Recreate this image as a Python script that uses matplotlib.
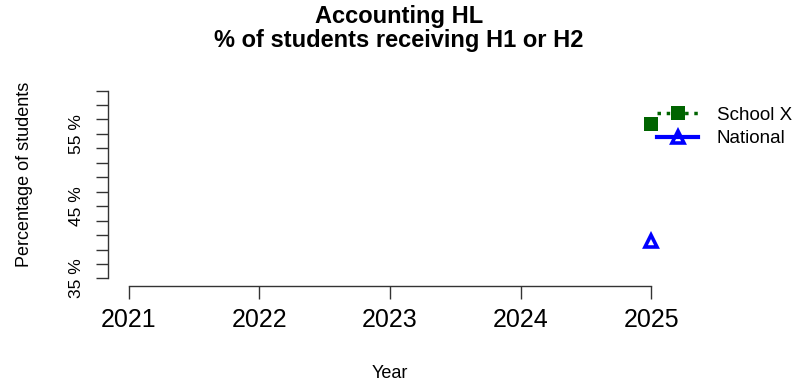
"""Accounting HL: % of students receiving H1 or H2, School X vs National."""

import matplotlib
matplotlib.use("Agg")
import matplotlib.pyplot as plt
import numpy as np
from matplotlib import font_manager

YEARS = [2021, 2022, 2023, 2024, 2025]
SCHOOL_X = [np.nan, np.nan, np.nan, np.nan, 56.4]
NATIONAL = [np.nan, np.nan, np.nan, np.nan, 40.2]
Y_TICKS = list(range(35, 62, 2))
Y_LABELED = [35, 45, 55]

GREEN = "#006400"
BLUE = "#0000ff"

plt.rcParams["font.family"] = ["Liberation Sans", "DejaVu Sans"]
names = {f.name for f in font_manager.fontManager.ttflist}
NARROW = "Liberation Sans Narrow" if "Liberation Sans Narrow" in names else "Liberation Sans"


def main() -> None:
    fig = plt.figure(figsize=(7.99, 3.86), dpi=100)
    W, H = 799, 386
    ax = fig.add_axes([108 / W, 1 - 286 / H, (672 - 108) / W, (286 - 83) / H])

    x = np.array(YEARS, dtype=float)
    ax.plot(x, SCHOOL_X, color=GREEN, linestyle=":", linewidth=2.5, marker="s",
            markersize=9.5, markeredgewidth=0, label="School X", clip_on=False)
    ax.plot(x, NATIONAL, color=BLUE, linestyle="-", linewidth=3, marker="^",
            markersize=8.5, markerfacecolor="none", markeredgewidth=2.6,
            label="National", clip_on=False)

    ax.set_xlim(2021 - 0.16, 2025 + 0.16)
    span = Y_TICKS[-1] - Y_TICKS[0]
    ax.set_ylim(Y_TICKS[0] - 0.04 * span, Y_TICKS[-1] + 0.04 * span)

    for side in ["top", "right"]:
        ax.spines[side].set_visible(False)
    ax.spines["left"].set_bounds(Y_TICKS[0], Y_TICKS[-1])
    ax.spines["bottom"].set_bounds(YEARS[0], YEARS[-1])
    for side in ["left", "bottom"]:
        ax.spines[side].set_linewidth(1.0)
        ax.spines[side].set_color("#333333")

    ax.set_xticks(YEARS)
    ax.set_xticklabels([str(y) for y in YEARS], fontsize=18, family=NARROW)
    ax.set_yticks(Y_TICKS)
    ax.set_yticklabels([f"{t} %" if t in Y_LABELED else "" for t in Y_TICKS],
                       fontsize=12.5, family=NARROW, rotation=90, va="center")
    ax.tick_params(axis="x", length=9.5, width=1, pad=6, colors="#333333", labelcolor="black")
    ax.tick_params(axis="y", length=8.6, width=1, pad=9, colors="#333333", labelcolor="black")

    fig.text(399 / W, 1 - 17 / H, "Accounting HL", ha="center", va="center",
             fontsize=17, fontweight="bold")
    fig.text(399 / W, 1 - 41 / H, "% of students receiving H1 or H2", ha="center",
             va="center", fontsize=17, fontweight="bold")
    fig.text(390 / W, 1 - 374 / H, "Year", ha="center", va="center", fontsize=13, family=NARROW)
    fig.text(25 / W, 1 - 174 / H, "Percentage of students", ha="center", va="center",
             rotation=90, fontsize=13)

    ax.legend(loc="center left", bbox_to_anchor=(657 / W, 1 - 127 / H),
              bbox_transform=fig.transFigure, frameon=False, fontsize=13.5,
              handlelength=2.2, handletextpad=1.0, labelspacing=0.35, borderpad=0,
              borderaxespad=0)

    fig.savefig("out.png", dpi=100)
    plt.close(fig)


if __name__ == "__main__":
    main()
